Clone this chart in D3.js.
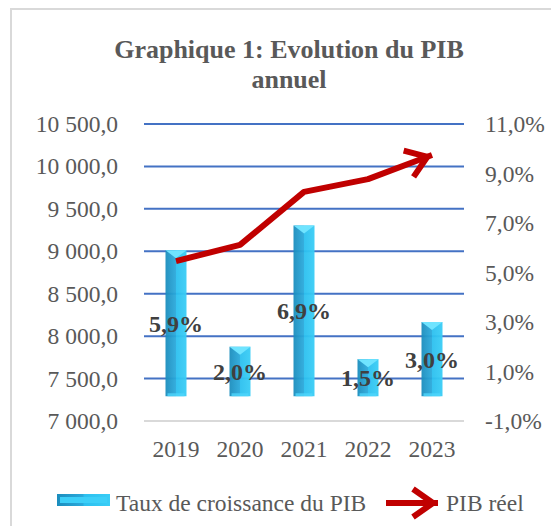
<!DOCTYPE html>
<html>
<head>
<meta charset="utf-8">
<script src="https://cdn.jsdelivr.net/npm/d3@7/dist/d3.min.js"></script>
<style>
  body { margin: 0; background: #fff; }
  svg { display: block; font-family: "Liberation Serif", "Times New Roman", serif; }
</style>
</head>
<body>
<div id="chart"></div>
<script>
// data
const years = ["2019", "2020", "2021", "2022", "2023"];
const croissance = [5.9, 2.0, 6.9, 1.5, 3.0];     // % (right axis)
const pibReel = [8885, 9075, 9700, 9850, 10135];   // left axis
const leftTicks = [7000, 7500, 8000, 8500, 9000, 9500, 10000, 10500];
const rightTicks = [-1, 1, 3, 5, 7, 9, 11];

const W = 551, H = 526;
const plot = { left: 144, right: 464, top: 124, bottom: 421 };

const fr = d3.formatLocale({ decimal: ",", thousands: " ", grouping: [3], currency: ["", " €"], minus: "-" });
const fmtLeft = fr.format(",.1f");
const fmtPct = d => fr.format(".1f")(d) + "%";

const svg = d3.select("#chart").append("svg")
    .attr("width", W).attr("height", H);

// chart frame (runs off right / bottom edges in the source image)
svg.append("rect")
    .attr("x", 11).attr("y", 9).attr("width", W + 10).attr("height", H + 10)
    .attr("fill", "#fff").attr("stroke", "#d9d9d9").attr("stroke-width", 2);

const x = d3.scaleBand().domain(years).range([plot.left, plot.right]);
const yL = d3.scaleLinear().domain([7000, 10500]).range([plot.bottom, plot.top]);
const yR = d3.scaleLinear().domain([-1, 11]).range([plot.bottom, plot.top]);

// title
const title = svg.append("text")
    .attr("x", 289).attr("text-anchor", "middle")
    .attr("fill", "#595959").attr("font-weight", "bold").attr("font-size", 26);
title.append("tspan").attr("x", 289).attr("y", 58).text("Graphique 1: Evolution du PIB");
title.append("tspan").attr("x", 289).attr("y", 88).text("annuel");

// gridlines
svg.append("g").selectAll("line").data(leftTicks).join("line")
    .attr("x1", plot.left).attr("x2", plot.right)
    .attr("y1", d => yL(d)).attr("y2", d => yL(d))
    .attr("stroke", d => d === 7000 ? "#d9d9d9" : "#4472c4")
    .attr("stroke-width", 2);

// axes
function styleAxis(g) {
    g.select(".domain").remove();
    g.selectAll("text").attr("fill", "#595959")
        .attr("font-size", 23.5).attr("font-family", "Liberation Serif, serif");
}
svg.append("g").attr("transform", `translate(${plot.left},0)`)
    .call(d3.axisLeft(yL).tickValues(leftTicks).tickFormat(fmtLeft).tickSize(0).tickPadding(26))
    .call(styleAxis);
svg.append("g").attr("transform", `translate(${plot.right},0)`)
    .call(d3.axisRight(yR).tickValues(rightTicks).tickFormat(fmtPct).tickSize(0).tickPadding(21))
    .call(styleAxis);
svg.append("g").attr("transform", `translate(0,${plot.bottom})`)
    .call(d3.axisBottom(x).tickSize(0).tickPadding(19))
    .call(styleAxis);

// bar gradients
const defs = svg.append("defs");
const grad = defs.append("linearGradient").attr("id", "barGrad")
    .attr("x1", "0%").attr("x2", "100%").attr("y1", "0%").attr("y2", "0%");
grad.append("stop").attr("offset", "0%").attr("stop-color", "#1b8dbd");
grad.append("stop").attr("offset", "48%").attr("stop-color", "#2aa9db");
grad.append("stop").attr("offset", "52%").attr("stop-color", "#2cc0ef");
grad.append("stop").attr("offset", "100%").attr("stop-color", "#39cdf6");

const bw = 21;
const bars = svg.append("g").selectAll("g").data(years.map((y, i) => ({ y, v: croissance[i] }))).join("g");
bars.append("rect")
    .attr("x", d => x(d.y) + x.bandwidth() / 2 - bw / 2)
    .attr("y", d => yR(d.v))
    .attr("width", bw)
    .attr("height", d => yR(0) - yR(d.v))
    .attr("fill", "url(#barGrad)").attr("opacity", 0.95);
// top bevel
bars.append("path")
    .attr("d", d => {
        const cx = x(d.y) + x.bandwidth() / 2, t = yR(d.v);
        return `M${cx - bw / 2},${t}L${cx + bw / 2},${t}L${cx},${t + 8}Z`;
    })
    .attr("fill", "#6fe4ff");
// bottom bevel
bars.append("rect")
    .attr("x", d => x(d.y) + x.bandwidth() / 2 - bw / 2 + 2)
    .attr("y", yR(0) - 3).attr("width", bw - 4).attr("height", 3)
    .attr("fill", "#4fd6fb").attr("opacity", 0.8);

// bar labels (centred in bar)
svg.append("g").selectAll("text").data(years.map((y, i) => ({ y, v: croissance[i] }))).join("text")
    .attr("x", d => x(d.y) + x.bandwidth() / 2)
    .attr("y", d => (yR(0) + yR(d.v)) / 2)
    .attr("dy", "0.35em")
    .attr("text-anchor", "middle")
    .attr("font-weight", "bold").attr("font-size", 24).attr("fill", "#404040")
    .text(d => fmtPct(d.v));

// arrow marker
defs.append("marker").attr("id", "arrowHead")
    .attr("markerUnits", "userSpaceOnUse")
    .attr("viewBox", "-30 -20 40 40").attr("refX", 5).attr("refY", 0)
    .attr("markerWidth", 40).attr("markerHeight", 40).attr("orient", "auto")
    .append("path").attr("d", "M-20,-14L0,0L-20,14")
    .attr("fill", "none").attr("stroke", "#c00000").attr("stroke-width", 6)
    .attr("stroke-linejoin", "miter");

const line = d3.line().x((d, i) => x(years[i]) + x.bandwidth() / 2).y(d => yL(d));
svg.append("path").datum(pibReel)
    .attr("d", line)
    .attr("fill", "none").attr("stroke", "#c00000").attr("stroke-width", 6)
    .attr("stroke-linejoin", "round")
    .attr("marker-end", "url(#arrowHead)");

// legend
const lg = svg.append("g");
lg.append("rect").attr("x", 57).attr("y", 494).attr("width", 53).attr("height", 12)
    .attr("fill", "url(#barGrad)");
lg.append("rect").attr("x", 60).attr("y", 497).attr("width", 47).attr("height", 6)
    .attr("fill", "#3ccff8");
lg.append("text").attr("x", 116).attr("y", 511)
    .attr("font-size", 23.5).attr("fill", "#595959").text("Taux de croissance du PIB");
lg.append("line").attr("x1", 386).attr("x2", 438).attr("y1", 503).attr("y2", 503)
    .attr("stroke", "#c00000").attr("stroke-width", 6)
    .attr("marker-end", "url(#arrowHead)");
lg.append("text").attr("x", 446).attr("y", 511)
    .attr("font-size", 23.5).attr("fill", "#595959").text("PIB réel");
</script>
</body>
</html>
